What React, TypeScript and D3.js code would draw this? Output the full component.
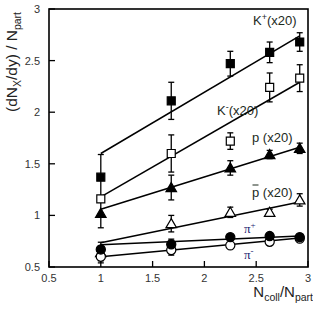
import React from 'react';
import * as d3 from 'd3';

const xVals = [1.0, 1.68, 2.25, 2.63, 2.92];

const kPlus = [1.37, 2.11, 2.47, 2.58, 2.68];
const kPlusErr = [0.22, 0.18, 0.12, 0.10, 0.09];
const kMinus = [1.16, 1.6, 1.72, 2.24, 2.33];
const kMinusErr = [0.02, 0.18, 0.08, 0.14, 0.13];
const proton = [1.02, 1.27, 1.46, 1.59, 1.65];
const protonErr = [0.14, 0.12, 0.07, 0.04, 0.05];
const pbar = [0.64, 0.92, 1.03, 1.03, 1.15];
const pbarErr = [0.1, 0.08, 0.05, 0.03, 0.06];
const piPlus = [0.67, 0.72, 0.79, 0.8, 0.79];
const piPlusErr = [0.03, 0.05, 0.02, 0.02, 0.02];
const piMinus = [0.6, 0.665, 0.71, 0.745, 0.775];
const piMinusErr = [0.04, 0.05, 0.02, 0.02, 0.02];

const fitX = [1.0, 2.92];
const kPlusFit = [1.6, 2.74];
const kMinusFit = [1.18, 2.29];
const protonFit = [1.06, 1.66];
const pbarFit = [0.735, 1.13];
const piPlusFit = [0.715, 0.8];
const piMinusFit = [0.6, 0.78];

const xTicks = [0.5, 1, 1.5, 2, 2.5, 3];
const yTicks = [0.5, 1, 1.5, 2, 2.5, 3];
const tickFmt = (v: number) => (Number.isInteger(v) ? String(v) : String(v));

type Shape = 'square' | 'triangle' | 'circle';
interface Series { y: number[]; err: number[]; fit: number[]; shape: Shape; filled: boolean; }

const series: Series[] = [
  { y: pbar, err: pbarErr, fit: pbarFit, shape: 'triangle', filled: false },
  { y: piMinus, err: piMinusErr, fit: piMinusFit, shape: 'circle', filled: false },
  { y: piPlus, err: piPlusErr, fit: piPlusFit, shape: 'circle', filled: true },
  { y: proton, err: protonErr, fit: protonFit, shape: 'triangle', filled: true },
  { y: kMinus, err: kMinusErr, fit: kMinusFit, shape: 'square', filled: false },
  { y: kPlus, err: kPlusErr, fit: kPlusFit, shape: 'square', filled: true },
];

const W = 313, H = 310;
const L = 49, R = 308, T = 9, B = 267;

export default function App() {
  const x = d3.scaleLinear().domain([0.5, 3]).range([L, R]);
  const y = d3.scaleLinear().domain([0.5, 3]).range([B, T]);
  const line = d3.line<[number, number]>().x(d => x(d[0])).y(d => y(d[1]));
  const font = "'Liberation Sans', Arial, Helvetica, sans-serif";
  const sym = (shape: Shape) => {
    if (shape === 'square') return d3.symbol().type(d3.symbolSquare).size(64)()!;
    if (shape === 'circle') return d3.symbol().type(d3.symbolCircle).size(66)()!;
    return d3.symbol().type(d3.symbolTriangle).size(48)()!;
  };
  const cap = 3;
  return (
    <svg width={W} height={H} style={{ position: 'absolute', left: 0, top: 0, background: '#fff' }} fontFamily={font}>
      {/* fits */}
      {series.map((s, i) => (
        <path key={'f' + i} d={line([[fitX[0], s.fit[0]], [fitX[1], s.fit[1]]])!} stroke="#000" strokeWidth={1.5} fill="none" />
      ))}
      {/* error bars */}
      {series.map((s, i) => (
        <g key={'e' + i} stroke="#000" strokeWidth={1.3}>
          {xVals.map((xv, j) => {
            const y1 = y(s.y[j] + s.err[j]);
            const y2 = y(s.y[j] - s.err[j]);
            const cx = x(xv);
            return (
              <g key={j}>
                <line x1={cx} x2={cx} y1={y1} y2={y2} />
                <line x1={cx - cap} x2={cx + cap} y1={y1} y2={y1} />
                <line x1={cx - cap} x2={cx + cap} y1={y2} y2={y2} />
              </g>
            );
          })}
        </g>
      ))}
      {/* markers */}
      {series.map((s, i) => (
        <g key={'m' + i}>
          {xVals.map((xv, j) => (
            <path key={j} d={sym(s.shape)} transform={`translate(${x(xv)},${y(s.y[j]) + (s.shape === 'triangle' ? 1 : 0)})`}
              fill={s.filled ? '#000' : '#fff'} stroke="#000" strokeWidth={1.2} />
          ))}
        </g>
      ))}
      {/* frame */}
      <rect x={L} y={T} width={R - L} height={B - T} fill="none" stroke="#000" strokeWidth={1.6} />
      {/* ticks */}
      {xTicks.map(t => (
        <g key={'xt' + t}>
          <line x1={x(t)} x2={x(t)} y1={B} y2={B - 6} stroke="#000" strokeWidth={1.3} />
          <text x={x(t)} y={282} textAnchor="middle" fontSize={11} fill="#333">{tickFmt(t)}</text>
        </g>
      ))}
      {yTicks.map(t => (
        <g key={'yt' + t}>
          <line x1={L} x2={L + 6} y1={y(t)} y2={y(t)} stroke="#000" strokeWidth={1.3} />
          <text x={40} y={y(t) + 4} textAnchor="end" fontSize={11} fill="#333">{tickFmt(t)}</text>
        </g>
      ))}
      {/* axis titles */}
      <text transform="translate(17,62) rotate(-90)" textAnchor="middle" fontSize={15.5} fill="#222">
        (dN<tspan fontSize={10.5} dy={4}>X</tspan><tspan dy={-4}>/dy) / N</tspan><tspan fontSize={10.5} dy={4}>part</tspan>
      </text>
      <text x={313} y={297} textAnchor="end" fontSize={15} fill="#222">
        N<tspan fontSize={10.5} dy={4}>coll</tspan><tspan dy={-4}>/N</tspan><tspan fontSize={10.5} dy={4}>part</tspan>
      </text>
      {/* series labels */}
      <g fontSize={13} fill="#1c2a1c">
        <text x={253} y={25}>K<tspan fontSize={9} dy={-5}>+</tspan><tspan dy={5}>(x20)</tspan></text>
        <text x={217} y={115}>K<tspan fontSize={9} dy={-5}>-</tspan><tspan dy={5}>(x20)</tspan></text>
        <text x={252} y={142}>p (x20)</text>
        <text x={252} y={197}>p (x20)</text>
        <line x1={252.5} x2={258.5} y1={185} y2={185} stroke="#1c2a1c" strokeWidth={1} />
      </g>
      <g fontSize={13} fill="#1a1a70" fontFamily="'Liberation Serif', 'Times New Roman', serif">
        <text x={244} y={233}>π<tspan fontSize={9} dy={-5}>+</tspan></text>
        <text x={244} y={259}>π<tspan fontSize={9} dy={-5}>-</tspan></text>
      </g>
    </svg>
  );
}
